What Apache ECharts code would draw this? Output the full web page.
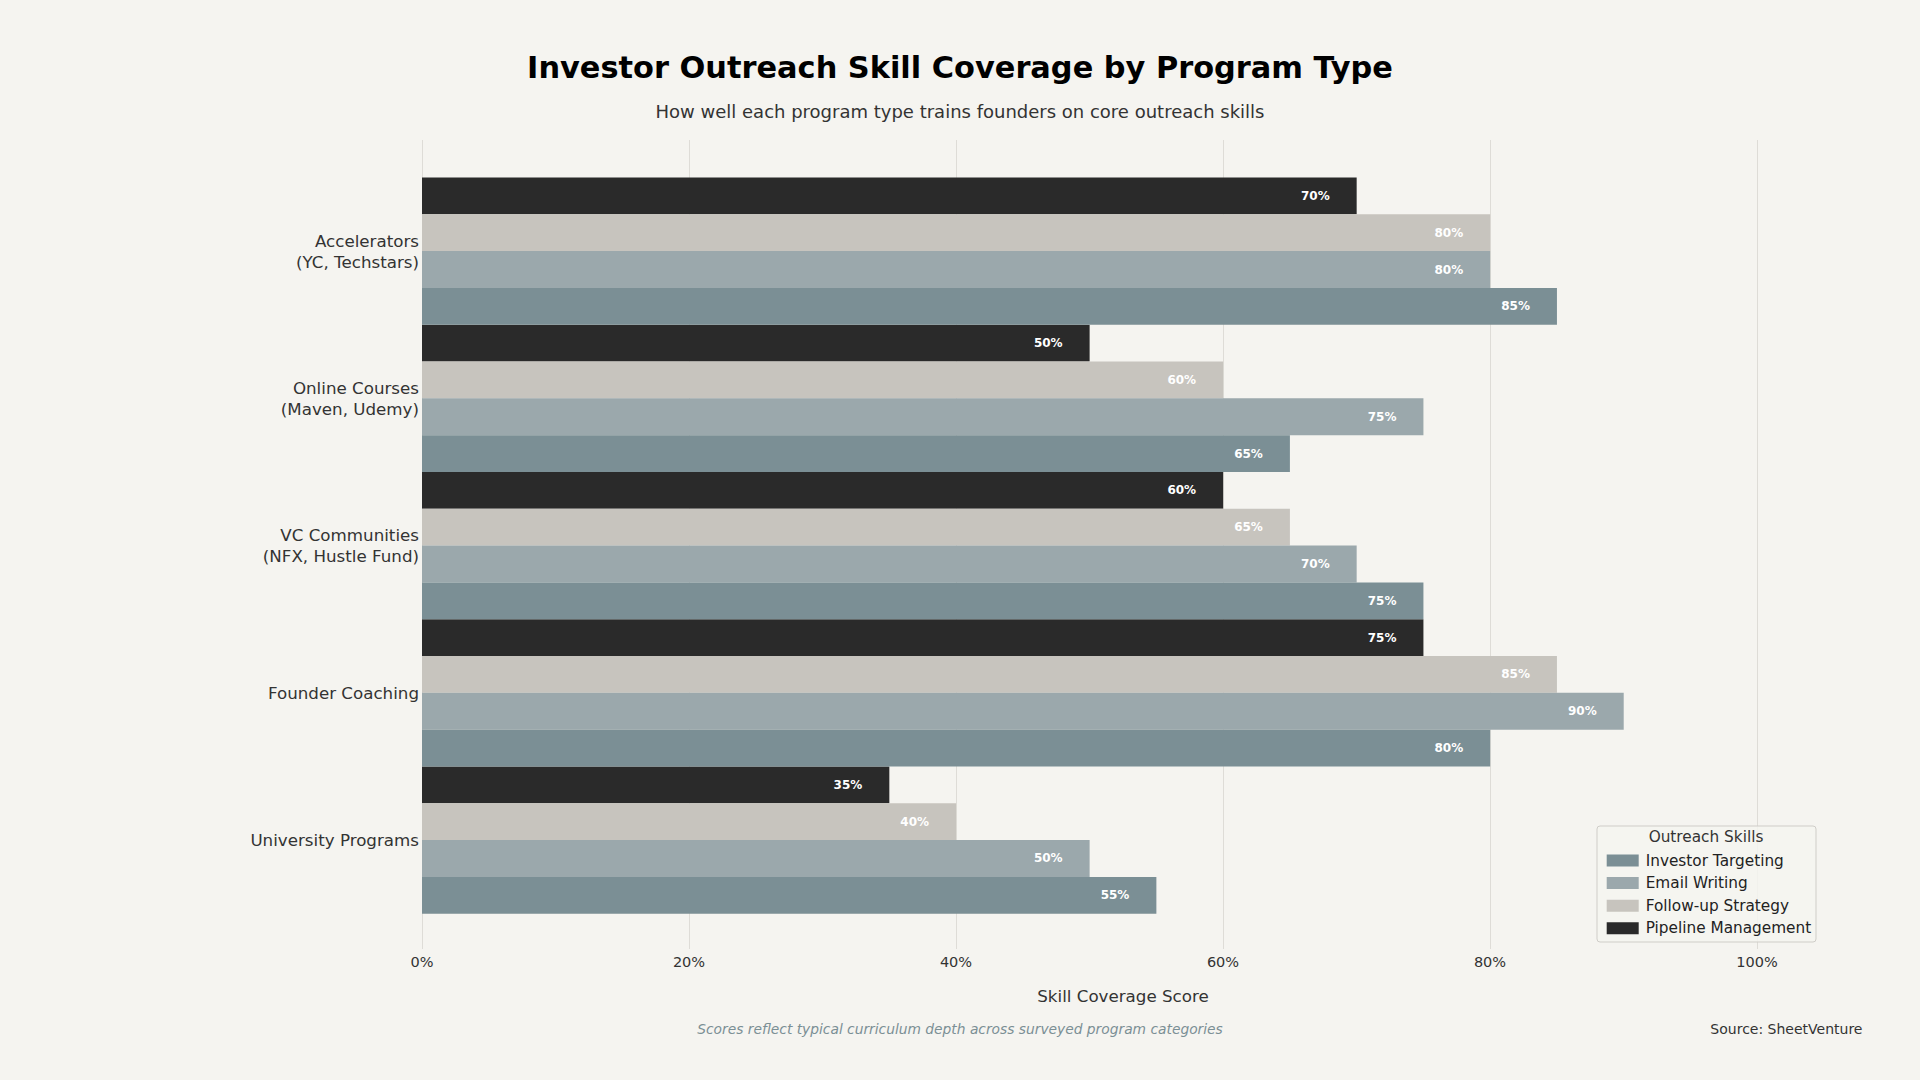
<!DOCTYPE html>
<html>
<head>
<meta charset="utf-8">
<script src="https://cdn.jsdelivr.net/npm/echarts@6/dist/echarts.min.js"></script>
<style>
html,body{margin:0;padding:0;background:#f5f4f0;}
#chart{width:1920px;height:1080px;}
</style>
</head>
<body>
<div id="chart"></div>
<script>
const categories = ['Accelerators\n(YC, Techstars)', 'Online Courses\n(Maven, Udemy)', 'VC Communities\n(NFX, Hustle Fund)', 'Founder Coaching', 'University Programs'];
const seriesNames = ['Investor Targeting', 'Email Writing', 'Follow-up Strategy', 'Pipeline Management'];
const investorTargeting = [85, 65, 75, 80, 55];
const emailWriting = [80, 75, 70, 90, 50];
const followUpStrategy = [80, 60, 65, 85, 40];
const pipelineManagement = [70, 50, 60, 75, 35];
const xTicks = [0, 20, 40, 60, 80, 100];

const colors = ['#7b8f95', '#9ba8ac', '#c7c4be', '#2a2a2a'];
const values = [investorTargeting, emailWriting, followUpStrategy, pipelineManagement];
const FONT = 'DejaVu Sans';

const chart = echarts.init(document.getElementById('chart'), null, {renderer: 'svg'});

// with an inverted category axis the first series sits at the top of each group,
// so add them from Pipeline Management down to Investor Targeting
const series = seriesNames.map((name, i) => ({
  name: name,
  type: 'bar',
  xAxisIndex: 1,
  yAxisIndex: 1,
  data: values[i],
  barGap: '0%',
  barCategoryGap: '0%',
  itemStyle: {color: colors[i]},
  label: {
    show: true,
    position: 'insideRight',
    distance: 27,
    formatter: p => p.value + '%',
    color: '#ffffff',
    fontFamily: FONT,
    fontWeight: 'bold',
    fontSize: 12
  },
  z: 2
})).reverse();

const option = {
  backgroundColor: '#f5f4f0',
  animation: false,
  textStyle: {fontFamily: FONT},
  grid: [
    {left: 422, right: 163, top: 140, bottom: 131},
    {left: 422, right: 96, top: 177.5, bottom: 166.3}
  ],
  xAxis: [
    {
      type: 'value', gridIndex: 0, min: xTicks[0], max: xTicks[xTicks.length - 1], interval: xTicks[1] - xTicks[0],
      axisLine: {show: false}, axisTick: {show: false},
      splitLine: {show: true, lineStyle: {color: '#dedcd7', width: 1}},
      axisLabel: {formatter: v => v + '%', fontSize: 14.5, color: '#333333', fontFamily: FONT, margin: 5}
    },
    {
      type: 'value', gridIndex: 1, min: 0, max: 105, show: false
    }
  ],
  yAxis: [
    {type: 'value', gridIndex: 0, show: false, min: 0, max: 1},
    {
      type: 'category', gridIndex: 1, data: categories, inverse: true,
      axisLine: {show: false}, axisTick: {show: false}, splitLine: {show: false},
      axisLabel: {fontSize: 16.7, color: '#333333', fontFamily: FONT, margin: 3, lineHeight: 21, align: 'right', padding: [5, 0, 0, 0]}
    }
  ],
  legend: {
    data: seriesNames,
    orient: 'vertical',
    left: 1601.7,
    top: 848,
    itemWidth: 32,
    itemHeight: 12,
    itemGap: 7.6,
    icon: 'rect',
    selectedMode: false,
    textStyle: {fontSize: 15.3, color: '#222222', fontFamily: FONT, lineHeight: 15, padding: [0, 0, 0, 2]},
    z: 5
  },
  graphic: [
    {type: 'rect', z: 3, shape: {x: 1597, y: 826, width: 219, height: 116, r: 3},
     style: {fill: 'rgba(245,244,240,0.85)', stroke: '#cfcdc8', lineWidth: 1}},
    {type: 'text', z: 5, style: {text: 'Outreach Skills', x: 1706, y: 837, textAlign: 'center', textVerticalAlign: 'middle', font: '15.3px "DejaVu Sans"', fill: '#333333'}},
    {type: 'text', z: 5, style: {text: 'Investor Outreach Skill Coverage by Program Type', x: 960, y: 67, textAlign: 'center', textVerticalAlign: 'middle', font: 'bold 30.4px "DejaVu Sans"', fill: '#000000'}},
    {type: 'text', z: 5, style: {text: 'How well each program type trains founders on core outreach skills', x: 960, y: 111, textAlign: 'center', textVerticalAlign: 'middle', font: '18px "DejaVu Sans"', fill: '#333333'}},
    {type: 'text', z: 5, style: {text: 'Skill Coverage Score', x: 1123, y: 995.5, textAlign: 'center', textVerticalAlign: 'middle', font: '16.7px "DejaVu Sans"', fill: '#333333'}},
    {type: 'text', z: 5, style: {text: 'Scores reflect typical curriculum depth across surveyed program categories', x: 960, y: 1029, textAlign: 'center', textVerticalAlign: 'middle', font: 'italic 13.8px "DejaVu Sans"', fill: '#7b8f95'}},
    {type: 'text', z: 5, style: {text: 'Source: SheetVenture', x: 1862.5, y: 1029, textAlign: 'right', textVerticalAlign: 'middle', font: '14px "DejaVu Sans"', fill: '#333333'}}
  ],
  series: series
};
chart.setOption(option);
</script>
</body>
</html>
